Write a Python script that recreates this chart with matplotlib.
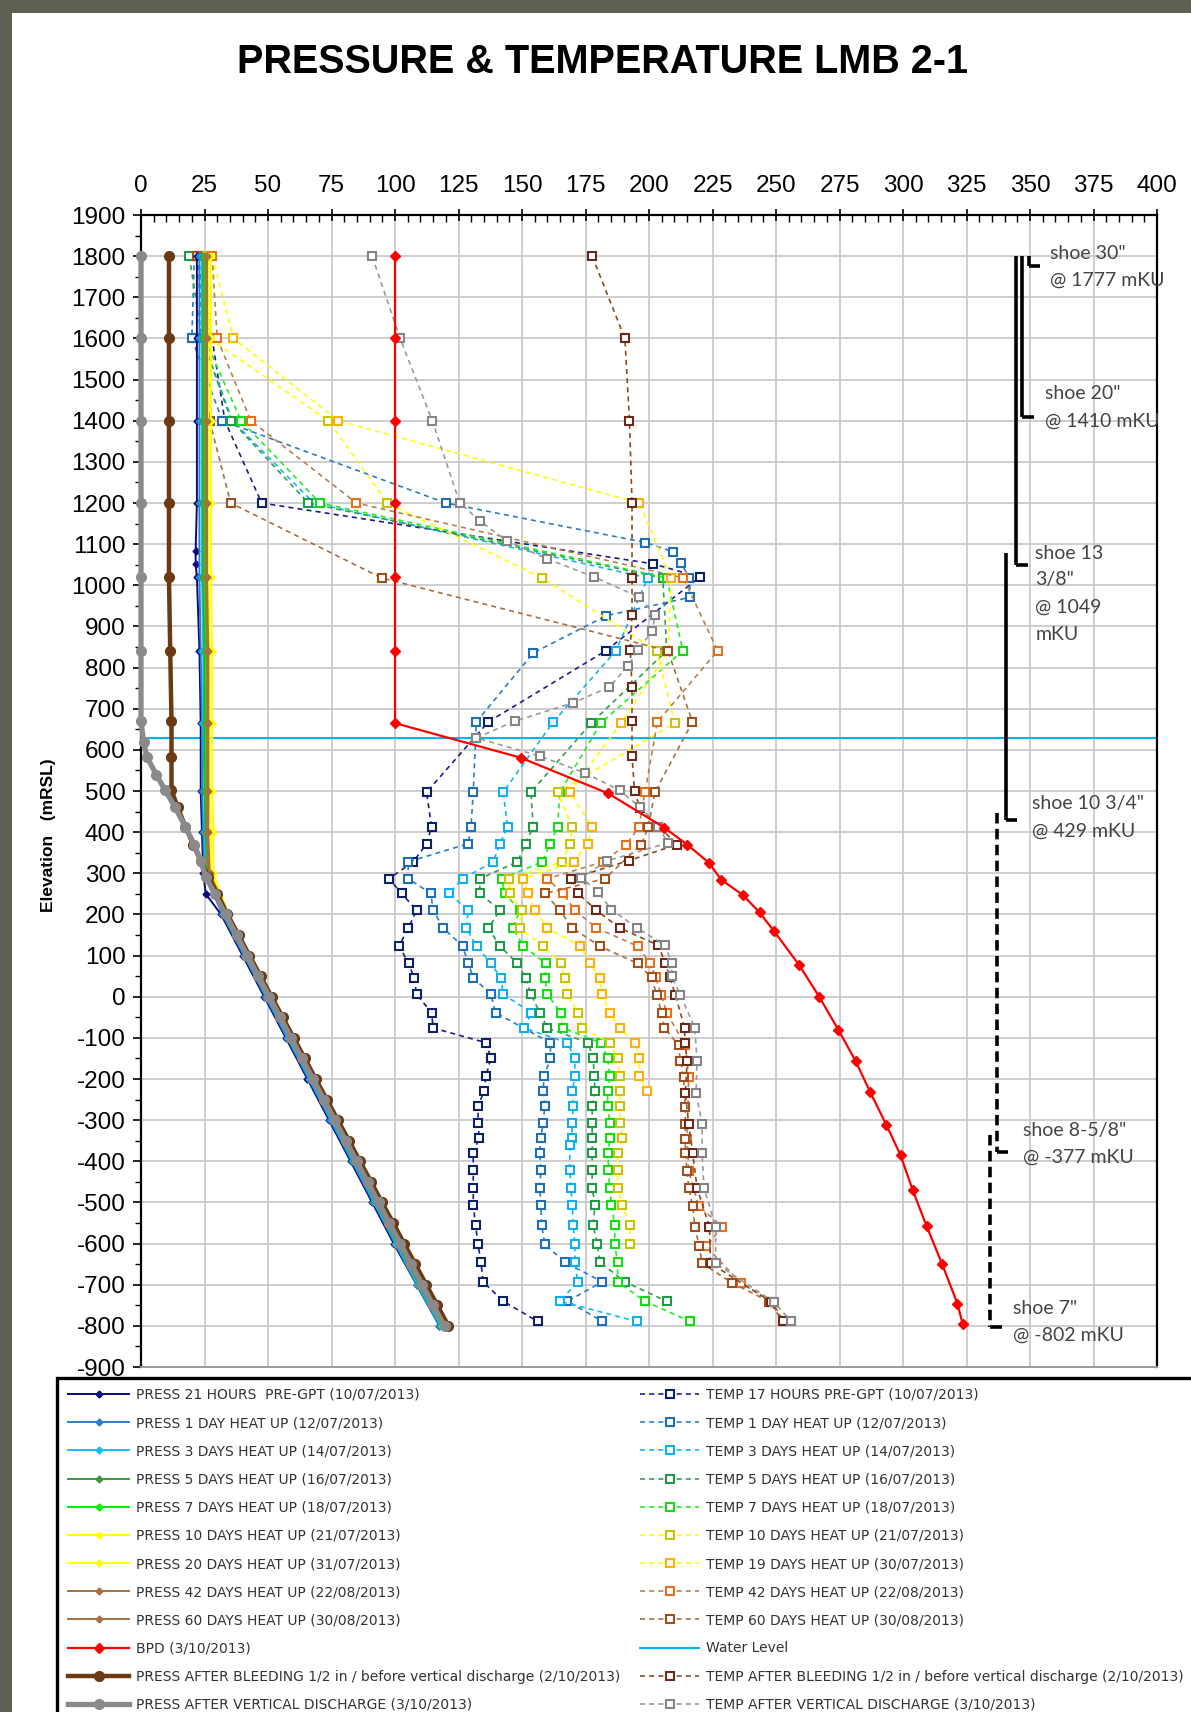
import matplotlib
matplotlib.use("Agg")
import matplotlib.pyplot as plt
from matplotlib.patches import Rectangle
import numpy as np

plt.rcParams['font.family'] = ['Liberation Sans', 'DejaVu Sans']
plt.rcParams['axes.unicode_minus'] = False

# ---------------- pressure profiles (bar) vs elevation (mRSL) ----------------
P_ELEV = [1800, 1600, 1400, 1200, 1020, 840, 665, 500, 400, 300, 200, 100, 0,
          -100, -200, -300, -400, -500, -600, -700, -800]
P_1D = [23, 23, 23, 23, 23, 23.5, 24, 24, 24.5, 25, 32, 40.5, 49, 57.5, 66, 74.5, 83, 91.5, 100, 108.5, 117.5]
P_3D = [24, 24, 24, 24, 24, 24.5, 24.5, 25, 25, 25.5, 32.5, 41, 49.5, 58, 66.5, 75, 83.5, 92, 100.5, 109, 118]
P_5D = [24.5, 24.5, 24.5, 24.5, 24.5, 25, 25, 25, 25.5, 26, 33, 41.5, 50, 58.5, 67, 75.5, 84, 92.5, 101, 109.5, 118.5]
P_7D = [25, 25, 25, 25, 25, 25.5, 25.5, 25.5, 26, 26, 33.5, 42, 50.5, 59, 67.5, 76, 84.5, 93, 101.5, 110, 118.5]
P_10D = [26.5, 26.5, 26.5, 26.5, 26.5, 27, 27, 27, 27.5, 27.5, 34, 42.5, 51, 59.5, 68, 76.5, 85, 93.5, 102, 110.5, 119]
P_20D = [27.5, 27.5, 27.5, 27.5, 27.5, 28, 28, 28, 28.5, 28.5, 34.5, 43, 51.5, 60, 68.5, 77, 85.5, 94, 102.5, 111, 119.5]
P_42D = [25.5, 25.5, 25.5, 25.5, 25.5, 26, 26, 26, 26, 26.5, 34, 42.5, 51, 59.5, 68, 76.5, 85, 93.5, 102, 110.5, 119.5]
P_60D = [26, 26, 26, 26, 26, 26.5, 26.5, 26.5, 26.5, 27, 34.5, 43, 51.5, 60, 68.5, 77, 85.5, 94, 102.5, 111, 120]

P_21H_E = [1800, 1600, 1400, 1200, 1083, 1051, 1020, 840, 665, 500, 400, 300, 250, 200, 100, 0,
           -100, -200, -300, -400, -500, -600, -700, -800]
P_21H = [22, 22, 22, 22, 21.5, 21.5, 22, 23, 23.5, 23.5, 24, 24.5, 25.5, 31.5, 40, 48.5,
         57, 65.5, 74, 82.5, 91, 99.5, 108.5, 117.5]

BPD_E = [1800, 1600, 1400, 1200, 1020, 840, 665, 581, 494, 411, 370, 326, 284, 247, 205, 161, 78,
         0, -80, -157, -231, -311, -385, -470, -558, -650, -746, -796]
BPD = [100, 100, 100, 100, 100, 100, 100, 149.5, 184, 206, 215, 223.5, 228.5, 237, 243.5, 249, 259,
       267, 274.5, 281.4, 287, 293.4, 299, 303.8, 309.3, 315.4, 321.4, 323.5]

P_BLEED_E = [1800, 1600, 1400, 1200, 1020, 840, 669, 583, 502, 460, 413, 370, 330, 292, 250, 200,
             150, 100, 50, 0, -50, -100, -150, -200, -250, -300, -350, -400, -450, -500, -550,
             -600, -650, -700, -750, -800]
P_BLEED = [11, 11, 11, 11, 11, 11.5, 12, 12, 12, 14.5, 17.5, 20.5, 23.5, 26.5, 30, 34,
           38.4, 42.7, 47.1, 51.4, 55.8, 60.1, 64.5, 68.8, 73.2, 77.5, 81.9, 86.2, 90.6, 94.9, 99.3,
           103.6, 108, 112.3, 116.7, 121]

P_VDIS_E = [1800, 1600, 1400, 1200, 1020, 840, 670, 620, 583, 540, 502, 460, 413, 370, 330, 292,
            250, 200, 150, 100, 50, 0, -50, -100, -150, -200, -250, -300, -350, -400, -450, -500,
            -550, -600, -650, -700, -750, -800]
P_VDIS = [0, 0, 0, 0, 0, 0, 0, 1, 2.3, 6, 9.5, 13.5, 17.4, 21, 23.5, 25.5,
          29, 33.3, 37.6, 41.9, 46.2, 50.5, 54.8, 59.1, 63.4, 67.7, 72, 76.3, 80.6, 84.9, 89.2, 93.5,
          97.8, 102.1, 106.4, 110.7, 115, 119.5]

# ---------------- temperature profiles (degC) vs elevation (mRSL) ----------------
T_17H_E = [1800, 1600, 1400, 1200, 1052, 1020, 841, 668, 497, 413, 372, 328, 287, 251, 210, 167, 123, 81,
           46, 6, -39, -76, -112, -150, -193, -229, -265, -307, -343, -380, -422, -464, -507, -555,
           -602, -645, -693, -740, -789]
T_17H = [22, 28, 33, 47.5, 201.7, 220, 183, 136.7, 112.4, 114.4, 112.4, 107.2, 97.6, 102.6, 108.5, 105.2,
         101.6, 105.4, 107.5, 108.5, 114.4, 115, 136, 137.7, 135.8, 135.1, 132.7, 132.7, 133.1, 130.8,
         130.8, 130.8, 130.8, 131.7, 132.7, 133.8, 134.7, 142.6, 156.1]

T_1D_E = [1800, 1600, 1400, 1200, 1104, 1082, 1054, 1018, 971, 926, 836, 668, 497, 413, 372, 328, 287,
          251, 210, 167, 123, 81, 46, 6, -39, -112, -150, -193, -229, -265, -307, -343, -380, -422,
          -464, -507, -555, -602, -645, -693, -740, -789]
T_1D = [21, 20, 32, 120, 198.6, 209.3, 212.6, 215.9, 216.3, 183.1, 154.5, 132, 130.8, 129.9, 128.8,
        105.2, 105.2, 114.1, 115, 119, 126.6, 128.8, 130.8, 137.7, 139.6, 161.2, 161.2, 158.7, 158.3,
        159, 158.3, 157.4, 157, 157.4, 157, 157.4, 157.7, 159, 166.9, 181.6, 167.9, 181.6]

T_3D_E = [1800, 1600, 1400, 1200, 1018, 841, 668, 497, 413, 372, 328, 287, 251, 210, 167, 123, 81,
          46, 6, -39, -76, -112, -150, -193, -229, -265, -307, -343, -361, -422, -464, -507, -555,
          -602, -645, -693, -740, -789]
T_3D = [23, 24, 36, 68, 199.5, 187, 162.3, 142.6, 144.3, 141.3, 138.6, 126.8, 121.2, 128.8, 128.1,
        132.1, 137.7, 141.7, 142.6, 153.7, 150.9, 167.9, 170.8, 170.8, 169.8, 170.1, 169.8, 169.5,
        168.8, 168.8, 169.2, 169.8, 170.1, 170.8, 170.8, 171.9, 164.9, 195.1]

T_5D_E = [1800, 1600, 1400, 1200, 1018, 841, 665, 497, 413, 372, 328, 287, 251, 210, 167, 123, 81,
          46, 6, -39, -76, -112, -150, -193, -229, -265, -307, -343, -380, -422, -464, -507, -555,
          -602, -645, -693, -740]
T_5D = [19, 24, 35.6, 65.9, 205.4, 207, 177.2, 153.5, 154.4, 151.4, 148.2, 133.4, 133.4, 141.3,
        136.7, 141.3, 148.2, 151.4, 153.5, 157, 160, 176, 178, 178.4, 178.7, 177.6, 177.6, 177.6,
        177.6, 177.6, 177.6, 178.7, 178, 179.7, 180.6, 190.5, 206.9]

T_7D_E = [1800, 1600, 1400, 1200, 1018, 841, 665, 497, 413, 372, 328, 287, 251, 210, 167, 123, 81,
          46, 6, -39, -76, -112, -150, -193, -229, -265, -307, -343, -380, -422, -464, -507, -555,
          -602, -645, -693, -740, -789]
T_7D = [25, 25, 39.4, 70.5, 207, 213.3, 181, 164.9, 164, 161, 158, 142, 143.2, 149.1, 146.5, 150.5,
        159.3, 159, 160, 165.3, 166.2, 181, 183.7, 184.6, 183.7, 183.7, 184.6, 184.6, 183.9, 184,
        184.5, 185.2, 186.5, 186.5, 187.6, 187.6, 198.4, 216.1]

T_10D_E = [1800, 1600, 1400, 1200, 1018, 841, 665, 497, 413, 372, 328, 287, 251, 210, 167, 123, 81,
           46, 6, -39, -76, -112, -150, -193, -229, -265, -307, -343, -380, -422, -464, -507, -555,
           -602]
T_10D = [26, 27, 73.8, 97, 158, 203, 210.2, 164, 169.8, 168.8, 165.8, 145, 145.2, 150, 149.1, 158.3,
         165.3, 166.9, 167.9, 171.9, 173.7, 184.6, 187.6, 188.5, 188.5, 188.5, 188.5, 189.4, 187.6,
         187.6, 187.6, 189.4, 192.5, 192.5]

T_19D_E = [1800, 1600, 1400, 1200, 1018, 841, 665, 497, 413, 372, 328, 287, 251, 210, 167, 123, 81,
           46, 6, -39, -76, -112, -150, -193, -229]
T_19D = [28, 36.4, 77.7, 196.2, 208.7, 207.6, 189, 168.8, 177.6, 175.8, 170.5, 150.5, 152.4, 155,
         160, 172.8, 176.7, 180.6, 181.6, 184.6, 188.5, 194.4, 196, 196, 199.3]

T_42D_E = [1800, 1600, 1400, 1200, 1018, 841, 668, 497, 413, 370, 328, 287, 251, 210, 167, 123, 81,
           47, 5, -40, -118, -194, -346, -424, -509, -559, -607, -696, -741, -789]
T_42D = [28, 30, 43.2, 84.8, 213.5, 227, 203.3, 198.4, 196, 191.1, 182, 160, 166.2, 170.8, 179.3,
         195.5, 200.4, 202.6, 204.8, 207, 214.3, 215.6, 215, 215.6, 219.6, 228.8, 222.5, 236.1,
         248.5, 253]

T_60D_E = [1800, 1600, 1400, 1200, 1018, 841, 668, 497, 413, 370, 287, 251, 210, 167, 123, 81, 47, 5,
           -40, -75, -118, -155, -194, -268, -309, -346, -381, -424, -464, -509, -559, -607, -648,
           -696, -741, -789]
T_60D = [22, 24.7, 27, 35.3, 94.7, 207.4, 217.1, 202.3, 199.7, 197, 182.6, 159, 164.9, 169.8, 180.6,
         195.5, 201, 203, 205, 206, 211.6, 212.3, 213.6, 214.3, 214.3, 214.3, 214.3, 215, 215.6,
         217.2, 218, 219.8, 220.9, 232.8, 247.4, 252.6]

T_BLEED_E = [1800, 1600, 1400, 1200, 1018, 928, 843, 753, 669, 586, 499, 459, 370, 331, 287, 251, 210,
             167, 125, 82, 47, 5, -75, -112, -155, -234, -309, -381, -464, -559, -648, -741, -789]
T_BLEED = [177.6, 190.5, 192.3, 193.3, 193.3, 193.3, 192.6, 193.3, 193.3, 193.3, 194.3, 196.4, 211,
           192.1, 169.2, 172.1, 179.3, 188.5, 203.7, 206.3, 208.3, 210.3, 214, 214.1, 215, 214.3,
           215.6, 217.2, 218.9, 223.8, 224.2, 248, 252.6]

T_VDIS_E = [1800, 1600, 1400, 1200, 1157, 1108, 1064, 1020, 971, 928, 888, 843, 803, 753, 714, 670,
            629, 585, 544, 502, 461, 413, 374, 330, 289, 254, 212, 168, 125, 82, 50, 5, -75, -155,
            -234, -309, -381, -464, -559, -648, -741, -789]
T_VDIS = [91, 102, 114.7, 125.5, 133.3, 144, 160, 178.5, 196.2, 202.4, 201.2, 195.6, 191.6, 184.4,
          170, 147.2, 132, 157, 174.8, 188.4, 196.4, 203.7, 207.4, 183.3, 173.4, 180, 185.2, 195.1,
          206.3, 209, 209, 212.3, 218, 218.9, 218.5, 220.9, 220.9, 221.6, 226.2, 226.2, 249, 256]

WATER_LEVEL = 630

# casing shoes: (x position on chart, top, shoe depth, dashed)
CASINGS = [(349.5, 1800, 1777, False), (347.0, 1800, 1410, False), (344.5, 1800, 1049, False),
           (340.5, 1079, 429, False), (336.8, 446, -377, True), (334.3, -337, -802, True)]
SHOE_TEXT = [(358, 1807, 'shoe 30"'), (358, 1741, '@ 1777 mKU'),
             (355.7, 1465, 'shoe 20"'), (355.7, 1398, '@ 1410 mKU'),
             (352, 1077, 'shoe 13'), (352, 1013, '3/8"'), (352, 947, '@ 1049'), (352, 881, 'mKU'),
             (350.6, 470, 'shoe 10 3/4"'), (350.6, 403, '@ 429 mKU'),
             (347.2, -324, 'shoe 8-5/8"'), (347.2, -390, '@ -377 mKU'),
             (343.3, -757, 'shoe 7"'), (343.3, -823, '@ -802 mKU')]

fig = plt.figure(figsize=(11.91, 17.12), dpi=100, facecolor='#5e6152')
fig.patches.append(Rectangle((0.0101, 0), 1.0, 1 - 13 / 1712, transform=fig.transFigure,
                             facecolor='white', edgecolor='none', zorder=-10))

ax = fig.add_axes([0.1184, 0.2015, 0.8531, 0.6729])


def temp(e, v, lc, mc, label):
    ln, = ax.plot(v, e, color=lc, lw=1.2, ls=(0, (3, 2.5)), marker='s', ms=6, mfc='white',
                  mec=mc, mew=1.5, label=label, zorder=3)
    return ln


def press(e, v, c, label, lw=1.4, ms=3.5, marker='D', z=4, clip=True):
    ln, = ax.plot(v, e, color=c, lw=lw, marker=marker, ms=ms, mfc=c, mec=c, label=label,
                  zorder=z, clip_on=clip)
    return ln


t_handles = [
    temp(T_17H_E, T_17H, '#1c1c8c', '#0d2266', 'TEMP 17 HOURS PRE-GPT (10/07/2013)'),
    temp(T_1D_E, T_1D, '#2a7fc8', '#1f6fb8', 'TEMP 1 DAY HEAT UP (12/07/2013)'),
    temp(T_3D_E, T_3D, '#10b8f0', '#10b0f0', 'TEMP 3 DAYS HEAT UP (14/07/2013)'),
    temp(T_5D_E, T_5D, '#30a050', '#1f9a48', 'TEMP 5 DAYS HEAT UP (16/07/2013)'),
    temp(T_7D_E, T_7D, '#22ee22', '#11dd11', 'TEMP 7 DAYS HEAT UP (18/07/2013)'),
    temp(T_10D_E, T_10D, '#ffff00', '#c8c400', 'TEMP 10 DAYS HEAT UP (21/07/2013)'),
    temp(T_19D_E, T_19D, '#ffff00', '#ffb000', 'TEMP 19 DAYS HEAT UP (30/07/2013)'),
    temp(T_42D_E, T_42D, '#b88050', '#e8701a', 'TEMP 42 DAYS HEAT UP (22/08/2013)'),
    temp(T_60D_E, T_60D, '#a87040', '#a0501a', 'TEMP 60 DAYS HEAT UP (30/08/2013)'),
]
water, = ax.plot([0, 400], [WATER_LEVEL, WATER_LEVEL], color='#00b4f0', lw=1.5, zorder=2,
                 label='Water Level')
t_handles.append(water)
t_handles.append(temp(T_BLEED_E, T_BLEED, '#8a4a22', '#6b2a1a',
                      'TEMP AFTER BLEEDING 1/2 in / before vertical discharge (2/10/2013)'))
t_handles.append(temp(T_VDIS_E, T_VDIS, '#9a9a9a', '#858585',
                      'TEMP AFTER VERTICAL DISCHARGE (3/10/2013)'))

p_handles = [
    press(P_21H_E, P_21H, '#0a0a80', 'PRESS 21 HOURS  PRE-GPT (10/07/2013)'),
    press(P_ELEV, P_1D, '#2a80c8', 'PRESS 1 DAY HEAT UP (12/07/2013)'),
    press(P_ELEV, P_3D, '#10c0ff', 'PRESS 3 DAYS HEAT UP (14/07/2013)'),
    press(P_ELEV, P_5D, '#3a9a3a', 'PRESS 5 DAYS HEAT UP (16/07/2013)'),
    press(P_ELEV, P_7D, '#00ee00', 'PRESS 7 DAYS HEAT UP (18/07/2013)'),
    press(P_ELEV, P_10D, '#ffff00', 'PRESS 10 DAYS HEAT UP (21/07/2013)'),
    press(P_ELEV, P_20D, '#ffff00', 'PRESS 20 DAYS HEAT UP (31/07/2013)'),
    press(P_ELEV, P_42D, '#a87040', 'PRESS 42 DAYS HEAT UP (22/08/2013)'),
    press(P_ELEV, P_60D, '#a87040', 'PRESS 60 DAYS HEAT UP (30/08/2013)'),
    press(BPD_E, BPD, '#ff0000', 'BPD (3/10/2013)', lw=1.6, ms=5, z=5),
    press(P_BLEED_E, P_BLEED, '#6b3a12', 'PRESS AFTER BLEEDING 1/2 in / before vertical discharge (2/10/2013)',
          lw=3.2, ms=7, marker='o', z=6, clip=False),
    press(P_VDIS_E, P_VDIS, '#8a8a8a', 'PRESS AFTER VERTICAL DISCHARGE (3/10/2013)',
          lw=3.8, ms=7, marker='o', z=7, clip=False),
]

# casing string and shoes
for x, top, shoe, dashed in CASINGS:
    ls = (0, (2.9, 1.5)) if dashed else '-'
    ax.plot([x, x], [top, shoe], color='black', lw=2.6, ls=ls, zorder=8, solid_capstyle='butt')
    ax.plot([x, x + 4.5], [shoe, shoe], color='black', lw=2.6, zorder=8, solid_capstyle='butt')
for x, y, s in SHOE_TEXT:
    ax.text(x, y, s, fontsize=14, family=['Lato', 'DejaVu Sans'], color='#444444',
            ha='left', va='center', zorder=9)

ax.set_xlim(0, 400)
ax.set_ylim(-900, 1900)
ax.xaxis.tick_top()
ax.set_xticks(np.arange(0, 401, 25))
ax.set_xticks(np.arange(0, 401, 5), minor=True)
ax.set_yticks(np.arange(-900, 1901, 100))
ax.set_yticks(np.arange(-900, 1901, 50), minor=True)
ax.grid(which='major', color='#c6c6c6', lw=1.2)
ax.set_axisbelow(True)
ax.tick_params(axis='x', which='major', direction='inout', length=8, width=1.2, pad=9,
               labelsize=17.5, top=True, bottom=False)
ax.tick_params(axis='x', which='minor', direction='in', length=5, width=1, top=True, bottom=False)
ax.tick_params(axis='y', which='major', direction='out', length=6, width=1.2, pad=5, labelsize=17.5)
ax.tick_params(axis='y', which='minor', direction='out', length=4, width=1)
for side in ['top', 'left', 'right']:
    ax.spines[side].set_color('black')
    ax.spines[side].set_linewidth(1.6)
ax.spines['bottom'].set_color('#9a9a9a')
ax.spines['bottom'].set_linewidth(1.4)

fig.text(0.041, 0.512, 'Elevation   (mRSL)', rotation=90, fontsize=12.5, fontweight='bold',
         ha='center', va='center')
fig.text(0.506, 0.9638, 'PRESSURE & TEMPERATURE LMB 2-1', fontsize=28.5, fontweight='bold',
         ha='center', va='center')

# legend frame and the two legend columns
fig.patches.append(Rectangle((57 / 1191, -0.02), 1.05, 0.02 + 1 - 1378 / 1712,
                             transform=fig.transFigure, facecolor='white', edgecolor='black',
                             lw=2.4, zorder=1))
leg_kw = dict(loc='upper left', frameon=False, numpoints=1, borderpad=0,
              borderaxespad=0, handletextpad=0.5, labelspacing=1.02, labelcolor='#333333',
              prop={'family': 'DejaVu Sans', 'size': 10})
fig.legend(handles=p_handles, bbox_to_anchor=(68 / 1191, 1 - 1388 / 1712), handlelength=4.4, **leg_kw)
fig.legend(handles=t_handles, bbox_to_anchor=(640 / 1191, 1 - 1388 / 1712), handlelength=4.25, **leg_kw)

fig.savefig('out.png', dpi=100, facecolor=fig.get_facecolor())
